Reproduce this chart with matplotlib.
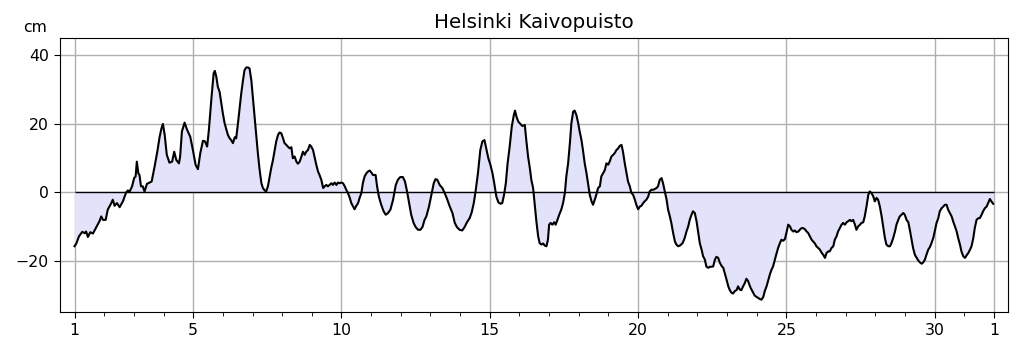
import matplotlib
matplotlib.use("Agg")
import matplotlib.pyplot as plt
import numpy as np

title = "Helsinki Kaivopuisto"
unit_label = "cm"
major_ticks = [1, 5, 10, 15, 20, 25, 30, 32]
major_labels = ["1", "5", "10", "15", "20", "25", "30", "1"]
y_ticks = [-20, 0, 20, 40]

day = [
    1.00, 1.06, 1.15, 1.26, 1.34, 1.39, 1.45, 1.53, 1.62, 1.73, 1.84, 1.90, 1.96, 2.05, 2.12, 2.24, 2.29, 2.35, 2.43, 2.52,
    2.63, 2.74, 2.80, 2.85, 2.94, 3.01, 3.06, 3.10, 3.15, 3.19, 3.24, 3.30, 3.36, 3.44, 3.53, 3.60, 3.70, 3.79, 3.87, 3.93,
    3.98, 4.04, 4.11, 4.20, 4.29, 4.36, 4.43, 4.52, 4.56, 4.62, 4.71, 4.79, 4.90, 4.99, 5.08, 5.16, 5.24, 5.33, 5.40, 5.47,
    5.53, 5.61, 5.69, 5.73,
    5.78, 5.83, 5.89, 5.95, 6.00, 6.06, 6.12, 6.17, 6.23, 6.28, 6.34, 6.40, 6.45, 6.51, 6.57, 6.62, 6.68, 6.73, 6.79, 6.85,
    6.90, 6.96, 7.01, 7.07, 7.13, 7.18, 7.24, 7.30, 7.35, 7.41, 7.46, 7.52, 7.58, 7.63, 7.69, 7.75, 7.80, 7.86, 7.91, 7.97,
    8.03, 8.08, 8.14, 8.19, 8.25, 8.31, 8.36, 8.42, 8.48, 8.53, 8.59, 8.65, 8.70, 8.76, 8.81, 8.87, 8.93, 8.98, 9.04, 9.09,
    9.15, 9.21, 9.26, 9.32, 9.38, 9.43, 9.49, 9.54, 9.60, 9.66, 9.71, 9.77, 9.83, 9.88, 9.94, 9.99, 10.05, 10.11, 10.16, 10.22,
    10.28, 10.33, 10.39, 10.44, 10.50, 10.56, 10.61, 10.67, 10.72, 10.78, 10.84, 10.89,
    10.95, 11.01, 11.06, 11.15, 11.20, 11.26, 11.34, 11.42, 11.49, 11.57, 11.65, 11.74, 11.83, 11.90, 11.98, 12.07, 12.14, 12.21,
    12.28, 12.35, 12.43, 12.50, 12.58, 12.66, 12.73, 12.80, 12.86, 12.95, 13.03, 13.11, 13.17, 13.23, 13.31, 13.40, 13.48, 13.56,
    13.65, 13.74, 13.82, 13.89, 13.98, 14.07, 14.15, 14.23, 14.32, 14.39, 14.46, 14.52, 14.60, 14.68, 14.75, 14.82, 14.88, 14.95,
    15.02, 15.09, 15.15, 15.22, 15.29, 15.36, 15.42, 15.48, 15.54, 15.60, 15.67, 15.74, 15.81, 15.85, 15.90, 15.96, 16.03, 16.10,
    16.18, 16.23, 16.29, 16.35, 16.40, 16.46, 16.51, 16.57, 16.63, 16.68, 16.74, 16.80, 16.85, 16.91, 16.96, 17.00, 17.05, 17.11,
    17.17, 17.22, 17.28, 17.34, 17.41, 17.47, 17.53, 17.58, 17.64, 17.70, 17.75, 17.81, 17.86, 17.92, 17.98, 18.03, 18.09, 18.14,
    18.20, 18.26, 18.31, 18.37, 18.43, 18.48, 18.54, 18.59, 18.65, 18.71, 18.76, 18.82, 18.88, 18.93, 18.99, 19.04, 19.10, 19.16,
    19.21, 19.27, 19.33, 19.38, 19.44, 19.49, 19.55, 19.61, 19.66, 19.72, 19.77, 19.83, 19.89, 19.94, 20.00, 20.06, 20.11, 20.17,
    20.22, 20.28, 20.34, 20.39, 20.45, 20.51, 20.56, 20.62, 20.67, 20.73, 20.79, 20.84, 20.90, 20.96, 21.01, 21.07, 21.12, 21.18,
    21.24, 21.29, 21.35,
    21.41, 21.50, 21.57, 21.63, 21.69, 21.74, 21.80, 21.85, 21.91, 21.97, 22.02, 22.08, 22.14, 22.19, 22.25, 22.30, 22.36, 22.42,
    22.47, 22.53, 22.59, 22.64, 22.70, 22.75, 22.81, 22.87, 22.92, 22.98, 23.04, 23.09, 23.15, 23.20, 23.26, 23.32, 23.37, 23.43,
    23.48, 23.54, 23.60, 23.65, 23.71, 23.77, 23.82, 23.88, 23.93, 23.99, 24.05, 24.10, 24.16, 24.22, 24.27, 24.33, 24.38, 24.44,
    24.50, 24.55, 24.61, 24.67, 24.72, 24.78, 24.83, 24.89, 24.95, 25.00, 25.06, 25.12, 25.17, 25.23, 25.28, 25.34, 25.40, 25.45,
    25.51, 25.56, 25.62, 25.68, 25.73, 25.79, 25.85, 25.90, 25.96, 26.01, 26.07, 26.13, 26.18, 26.24, 26.30, 26.35, 26.41, 26.46,
    26.52, 26.58,
    26.63, 26.69, 26.74, 26.80, 26.86, 26.91, 26.97, 27.03, 27.08, 27.14, 27.19, 27.25, 27.31, 27.36, 27.42, 27.48, 27.53, 27.59,
    27.64, 27.70, 27.76, 27.81, 27.87, 27.93, 27.98, 28.04, 28.09, 28.15, 28.21, 28.26, 28.32, 28.37, 28.43, 28.49, 28.54, 28.60,
    28.66, 28.71, 28.77, 28.82, 28.88, 28.94, 28.99, 29.05, 29.11, 29.16, 29.22, 29.27, 29.33, 29.39, 29.44, 29.50, 29.56, 29.61,
    29.67, 29.72, 29.78, 29.84, 29.89, 29.95, 30.00, 30.06, 30.12, 30.17, 30.23, 30.29, 30.34, 30.40, 30.45, 30.51, 30.57, 30.62,
    30.68, 30.74, 30.79, 30.85, 30.90, 30.96, 31.02, 31.07, 31.13, 31.19, 31.24, 31.30, 31.35, 31.41, 31.47, 31.52, 31.58, 31.63,
    31.69, 31.75, 31.80, 31.86, 31.91, 31.97,
]

level_cm = [
    -15.8, -15.0, -12.9, -11.6, -12.0, -11.5, -13.1, -11.7, -12.1, -10.3, -8.5, -7.1, -8.1, -8.1, -5.1, -3.2, -2.2, -4.0, -3.2, -4.4,
    -2.7, -0.1, 0.5, 0.0, 1.7, 4.1, 4.6, 8.9, 5.5, 5.0, 1.7, 1.7, 0.2, 2.4, 2.8, 3.1, 7.5, 11.8, 16.2, 18.6,
    19.9, 16.7, 10.9, 8.6, 8.9, 11.8, 9.4, 8.4, 10.4, 17.7, 20.3, 18.3, 16.2, 12.3, 8.0, 6.7, 11.4, 15.0, 14.8, 13.3,
    18.2, 26.9, 34.7, 35.4,
    33.7, 30.8, 29.3, 25.9, 23.0, 20.1, 18.2, 16.7, 15.7, 15.2, 14.3, 16.0, 15.7, 20.1, 25.0, 28.8, 32.7, 35.6, 36.4, 36.4,
    36.1, 32.7, 27.9, 22.0, 16.2, 11.4, 6.5, 2.6, 1.2, 0.5, 0.2, 1.7, 4.6, 7.0, 9.4, 12.3, 14.8, 16.7, 17.4, 17.2,
    15.7, 14.3, 13.8, 13.3, 12.8, 13.1, 9.9, 10.4, 8.9, 8.3, 8.9, 10.4, 11.8, 10.9, 11.8, 12.3, 13.8, 13.3, 12.3, 10.4,
    8.0, 6.0, 5.0, 3.6, 1.2, 1.7, 2.1, 1.7, 2.1, 2.6, 2.1, 2.8, 2.1, 2.8, 2.6, 2.8, 2.6, 1.7, 0.7, -0.3,
    -1.7, -3.2, -4.2, -5.0, -4.0, -3.2, -1.7, -0.3, 2.6, 4.6, 5.5, 6.0,
    6.3, 5.7, 5.0, 5.0, 1.7, -1.3, -3.7, -5.6, -6.6, -6.1, -5.1, -2.2, 2.1, 3.6, 4.4, 4.4, 3.1, 0.2,
    -3.2, -6.6, -9.0, -10.2, -11.0, -11.0, -10.2, -8.1, -7.1, -4.2, -0.8, 2.6, 3.8, 3.6, 2.1, 1.2, -0.3, -2.0,
    -4.2, -6.1, -9.0, -10.2, -11.0, -11.2, -10.2, -8.8, -7.6, -5.9, -3.2, 0.2, 5.5, 12.3, 14.8, 15.2, 12.8, 9.9,
    8.0, 5.5, 2.6, -1.3, -3.0, -3.4, -3.2, -0.8, 2.6, 8.4, 13.3, 19.1, 22.5, 23.8, 22.0, 20.6, 19.9, 19.3,
    19.6, 15.2, 10.4, 7.0, 3.6, 1.2, -3.2, -8.5, -12.9, -14.9, -15.3, -15.0, -15.6, -15.8, -13.9, -9.5, -9.0, -9.5,
    -8.8, -9.5, -8.1, -6.6, -5.1, -3.2, -0.3, 4.6, 8.4, 14.3, 20.1, 23.5, 23.8, 22.5, 20.1, 17.7, 15.2, 12.3,
    8.4, 5.5, 2.6, -0.8, -2.7, -3.7, -2.2, -0.8, 1.2, 1.7, 4.6, 5.5, 6.5, 8.4, 8.0, 8.9, 10.4, 10.9,
    11.4, 12.3, 12.8, 13.5, 13.8, 11.8, 8.4, 5.5, 3.1, 1.7, -0.1, -0.8, -2.2, -3.7, -5.0, -4.2, -4.0, -3.2,
    -2.7, -2.2, -1.3, 0.2, 0.7, 0.7, 0.9, 1.2, 1.7, 3.6, 4.1, 2.6, 0.2, -2.2, -5.1, -7.1, -9.0, -11.9,
    -14.4, -15.3, -15.8,
    -15.6, -14.9, -13.4, -11.5, -10.0, -8.1, -6.6, -5.6, -6.1, -8.5, -11.5, -14.9, -16.8, -18.7, -19.7, -21.7, -22.1, -21.8,
    -21.8, -21.7, -19.7, -18.9, -19.2, -20.5, -21.5, -22.1, -23.6, -25.5, -27.5, -28.6, -29.4, -29.6, -28.9, -28.6, -27.5, -28.5,
    -28.6, -27.5, -26.5, -25.3, -26.0, -27.5, -28.4, -29.4, -30.2, -30.6, -30.9, -31.2, -31.4, -30.6, -28.9, -27.5, -26.0, -24.1,
    -22.6, -21.7, -19.7, -17.8, -16.3, -14.9, -13.9, -14.2, -13.7, -11.9, -9.5, -10.0, -11.0, -11.5, -11.2, -11.7, -11.5, -11.0,
    -10.5, -10.5, -10.8, -11.5, -11.9, -12.9, -13.9, -14.4, -15.0, -15.8, -16.3, -16.8, -17.6, -18.3, -19.2, -17.8, -17.3, -17.3,
    -16.3, -15.8,
    -13.9, -12.9, -11.5, -10.5, -9.5, -9.0, -9.5, -8.8, -8.5, -8.1, -8.5, -8.1, -9.5, -11.0, -10.0, -9.5, -9.0, -8.8,
    -7.1, -4.2, -0.8, 0.2, -0.3, -1.3, -2.7, -1.7, -2.2, -4.2, -7.1, -10.0, -13.4, -15.3, -15.8, -15.8, -14.9, -13.4,
    -11.5, -9.5, -8.1, -7.1, -6.6, -6.1, -6.6, -8.1, -8.8, -11.0, -13.9, -16.3, -18.3, -19.2, -19.9, -20.5, -20.9, -20.5,
    -19.7, -18.3, -16.8, -16.0, -14.9, -13.4, -11.5, -9.0, -7.6, -5.6, -4.7, -4.2, -3.7, -3.7, -5.1, -6.1, -7.1, -8.5,
    -10.0, -11.5, -13.4, -15.3, -17.3, -18.7, -19.2, -18.5, -17.8, -16.8, -15.8, -13.4, -10.5, -8.1, -7.6, -7.6, -6.6, -5.6,
    -4.7, -4.2, -3.2, -2.0, -2.7, -3.4,
]

plt.rcParams["font.family"] = ["DejaVu Sans"]
fig = plt.figure(figsize=(10.19, 3.52), dpi=100)
ax = fig.add_axes([60 / 1019, 1 - 312 / 352, (1008 - 60) / 1019, (312 - 38) / 352])

x = np.array(day)
y = np.array(level_cm)
ax.fill_between(x, y, 0, color="#e2e2fa", linewidth=0, zorder=2)
ax.hlines(0, major_ticks[0], major_ticks[-1], color="black", linewidth=1.0, zorder=3)
ax.plot(x, y, color="black", linewidth=1.5, zorder=4)

ax.set_xlim(0.51, 32.47)
ax.set_ylim(-35, 45)
ax.set_xticks(major_ticks)
ax.set_xticklabels(major_labels)
ax.set_xticks(np.arange(2, 32), minor=True)
ax.set_yticks(y_ticks)
ax.grid(True, which="major", color="#b0b0b0", linewidth=1.0, zorder=0)
ax.set_axisbelow(True)
ax.tick_params(axis="both", which="major", labelsize=11.3, length=4.5)
ax.tick_params(axis="both", which="minor", length=2.8)
ax.set_title(title, fontsize=14.3, pad=7)
fig.text(47 / 1019, 1 - 28 / 352, unit_label, ha="right", va="center", fontsize=11.3)

fig.savefig("out.png", dpi=100)
